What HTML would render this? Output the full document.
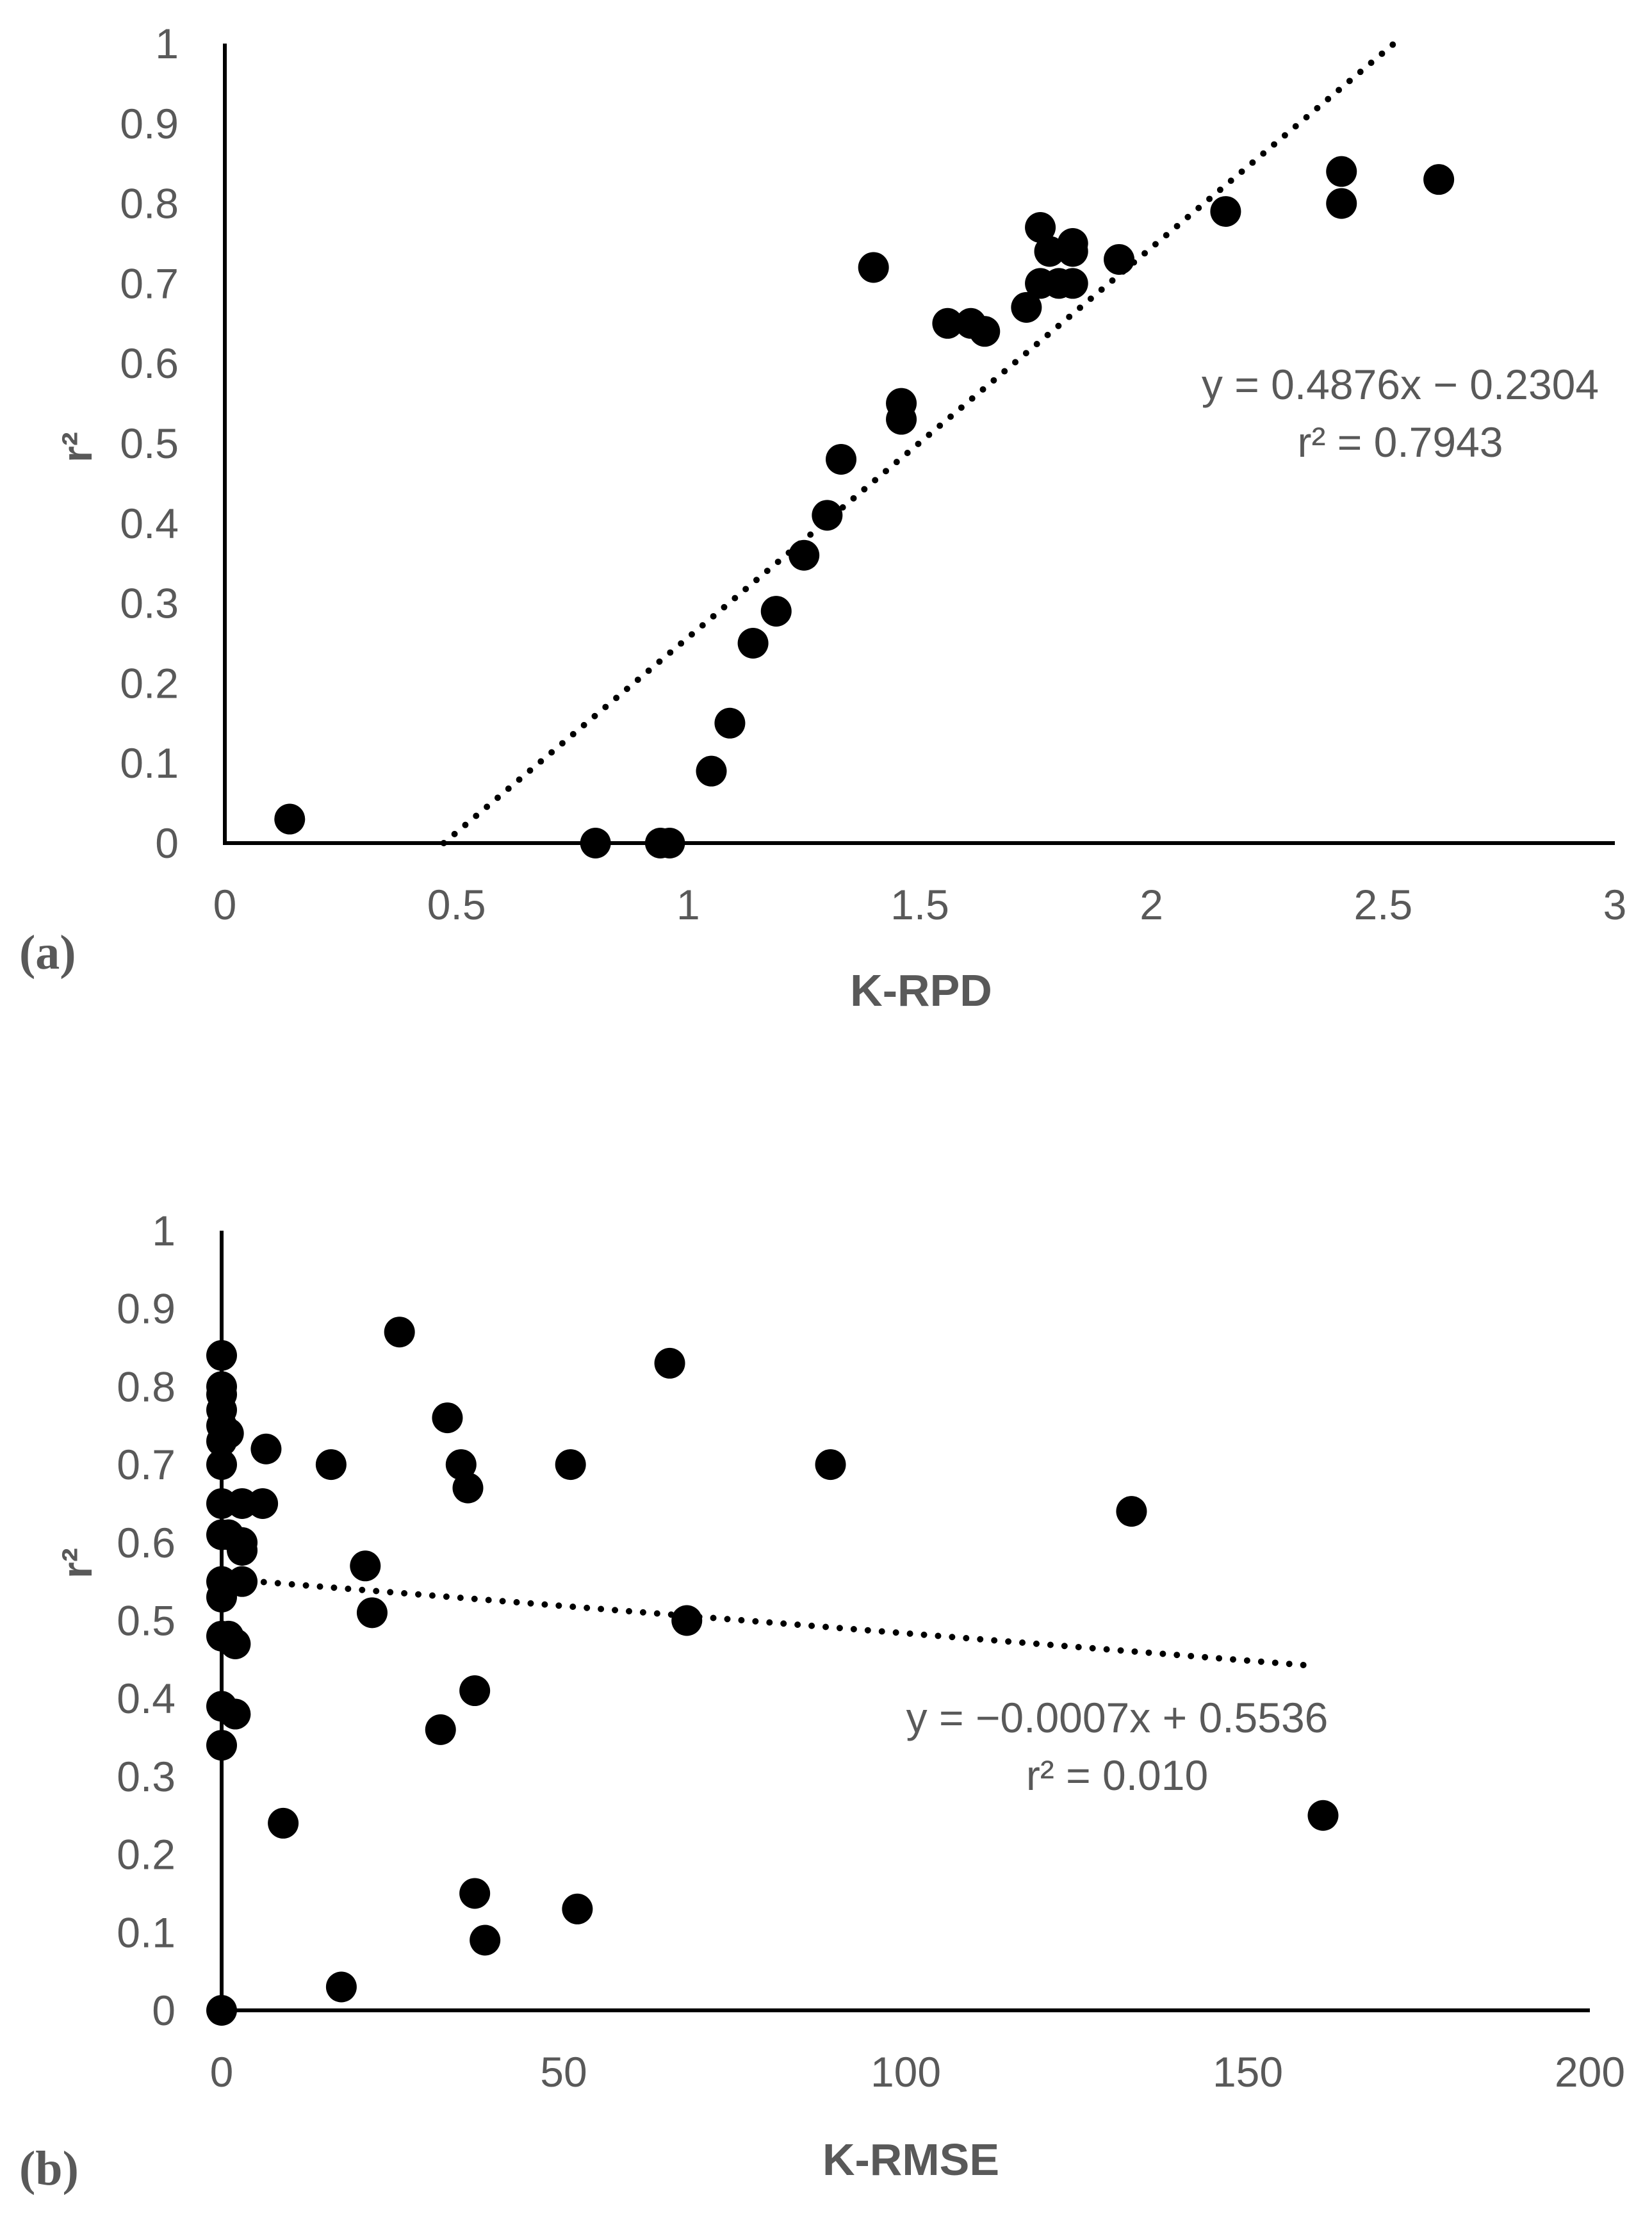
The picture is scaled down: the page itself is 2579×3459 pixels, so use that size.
<!DOCTYPE html>
<html><head><meta charset="utf-8">
<style>
html,body{margin:0;padding:0;background:#fff;}
svg{display:block;}
text{font-family:"Liberation Sans",sans-serif;fill:#595959;}
</style></head>
<body>
<svg id="fig" width="2579" height="3459" viewBox="0 0 2579 3459" xmlns="http://www.w3.org/2000/svg">
<g id="chartA"></g>
<g id="chartB"></g>
</svg>
<script>
// Chart (a) data
const aX = [0.14,0.80,0.94,0.96,1.05,1.09,1.14,1.19,1.25,1.30,1.33,1.40,1.46,1.46,1.56,1.61,1.64,1.73,1.76,1.76,1.78,1.80,1.83,1.83,1.83,1.93,2.16,2.41,2.41,2.62];
const aY = [0.03,0,0,0,0.09,0.15,0.25,0.29,0.36,0.41,0.48,0.72,0.55,0.53,0.65,0.65,0.64,0.67,0.77,0.70,0.74,0.70,0.75,0.74,0.70,0.73,0.79,0.84,0.80,0.83];
const aXTicks = ["0","0.5","1","1.5","2","2.5","3"];
const aYTicks = ["0","0.1","0.2","0.3","0.4","0.5","0.6","0.7","0.8","0.9","1"];
const aSlope = 0.4876, aIntercept = -0.2304;
// Chart (b) data
const bX = [0,0,0,0,0,0,1,0,0,0,0,0,0,0,0,0,1,1,2,2,3,3,3,3,6,6.5,9,16,17.5,21,22,26,32,33,35,36,37,37,38.5,51,52,65.5,68,89,133,161];
const bY = [0.84,0.80,0.79,0.77,0.75,0.73,0.74,0.70,0.65,0.61,0.55,0.53,0.48,0.39,0.34,0,0.61,0.48,0.47,0.38,0.60,0.59,0.55,0.65,0.65,0.72,0.24,0.70,0.03,0.57,0.51,0.87,0.36,0.76,0.70,0.67,0.41,0.15,0.09,0.70,0.13,0.83,0.50,0.70,0.64,0.25];
const bXTicks = ["0","50","100","150","200"];
const bYTicks = ["0","0.1","0.2","0.3","0.4","0.5","0.6","0.7","0.8","0.9","1"];
const bSlope = -0.0007, bIntercept = 0.5536;

const NS = "http://www.w3.org/2000/svg";
function mk(parent, tag, attrs, txt){
  const e = document.createElementNS(NS, tag);
  for (const k in attrs) e.setAttribute(k, attrs[k]);
  if (txt !== undefined) e.textContent = txt;
  parent.appendChild(e);
  return e;
}

function drawChart(g, cfg){
  const sx = v => cfg.x0 + (v - cfg.xmin) / (cfg.xmax - cfg.xmin) * (cfg.x1 - cfg.x0);
  const sy = v => cfg.y0 - (v - 0) / (1 - 0) * (cfg.y0 - cfg.y1);
  let e = mk(g, "line", {x1:cfg.x0, y1:sy(0), x2:cfg.x1, y2:sy(0), stroke:"#000", "stroke-width":6});
  
  
  e = mk(g, "line", {x1:cfg.x0, y1:cfg.y1, x2:cfg.x0, y2:sy(0)+3, stroke:"#000", "stroke-width":6});
  
  
  cfg.yTicks.forEach(t => {
    const el = mk(g, "text", {x:cfg.x0 - 72, y:sy(parseFloat(t)) + 23, "text-anchor":"end", "font-size":66}, t);
    
    
  });
  cfg.xTicks.forEach(t => {
    const el = mk(g, "text", {x:sx(parseFloat(t)), y:cfg.xTickY, "text-anchor":"middle", "font-size":66}, t);
    
    
  });
  let xa = cfg.tStart, xb = cfg.tEnd;
  e = mk(g, "line", {x1:sx(xa), y1:sy(cfg.slope*xa+cfg.intercept), x2:sx(xb), y2:sy(cfg.slope*xb+cfg.intercept), stroke:"#000", "stroke-width":10, "stroke-linecap":"round", "stroke-dasharray":"0 22"});
  
  
  cfg.xs.forEach((v, i) => {
    const c = mk(g, "ellipse", {cx:sx(v), cy:sy(cfg.ys[i]), rx:24, ry:24, fill:"#000"});
    
    
  });
  e = mk(g, "text", {x:cfg.eqX, y:cfg.eqY, "text-anchor":"middle", "font-size":66}, cfg.eq1);
  
  
  e = mk(g, "text", {x:cfg.eqX, y:cfg.eqY + 90, "text-anchor":"middle", "font-size":66}, cfg.eq2);
  
  
  e = mk(g, "text", {x:cfg.titleX, y:cfg.titleY, "text-anchor":"middle", "font-size":70, "font-weight":"bold"}, cfg.xTitle);
  
  
  e = mk(g, "text", {x:0, y:0, "text-anchor":"middle", "font-size":66, "font-weight":"bold", transform:"translate(143," + cfg.yTitleY + ") rotate(-90)"}, "r²");
  
  
  e = mk(g, "text", {x:30, y:cfg.panelY, "font-size":76, "font-weight":"bold", style:"font-family:'Liberation Serif',serif"}, cfg.panel);
  
  
}

drawChart(document.getElementById("chartA"), {
  x0:351, x1:2521, xmin:0, xmax:3, y0:1316, y1:68,
  xs:aX, ys:aY, xTicks:aXTicks, yTicks:aYTicks, xTickY:1435,
  slope:aSlope, intercept:aIntercept, tStart:0.4725, tEnd:2.523,
  eq1:"y = 0.4876x − 0.2304", eq2:"r² = 0.7943", eqX:2186, eqY:623,
  xTitle:"K-RPD", titleX:1438, titleY:1570, yTitleY:698, panel:"(a)", panelY:1512
});
drawChart(document.getElementById("chartB"), {
  x0:346, x1:2482, xmin:0, xmax:200, y0:3138, y1:1921,
  xs:bX, ys:bY, xTicks:bXTicks, yTicks:bYTicks, xTickY:3257,
  slope:bSlope, intercept:bIntercept, tStart:0, tEnd:160,
  eq1:"y = −0.0007x + 0.5536", eq2:"r² = 0.010", eqX:1744, eqY:2704,
  xTitle:"K-RMSE", titleX:1422, titleY:3395, yTitleY:2440, panel:"(b)", panelY:3410
});
</script>
</body></html>
